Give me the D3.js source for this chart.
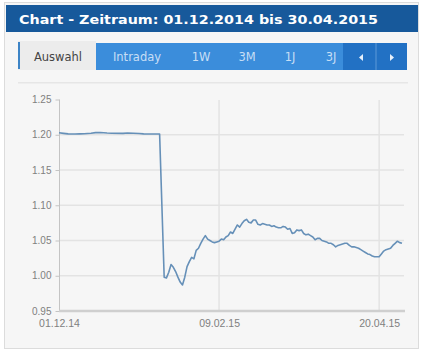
<!DOCTYPE html>
<html>
<head>
<meta charset="utf-8">
<script src="https://cdn.jsdelivr.net/npm/d3@7/dist/d3.min.js"></script>
<style>
  html, body { margin: 0; padding: 0; background: #ffffff; }
  svg { display: block; }
</style>
</head>
<body>
<script>
// ---- Data ----
const titleText = "Chart - Zeitraum: 01.12.2014 bis 30.04.2015";
const tabLabels = ["Intraday", "1W", "3M", "1J", "3J"];
const activeTab = "Auswahl";
const yTicks = [0.95, 1.00, 1.05, 1.10, 1.15, 1.20, 1.25];
const xTickDates = ["2014-12-01", "2015-02-09", "2015-04-20"];
const domainDates = ["2014-12-01", "2015-04-30"];

const dates = [
  "2014-12-01","2014-12-03","2014-12-05","2014-12-08","2014-12-10","2014-12-12","2014-12-15","2014-12-17",
  "2014-12-19","2014-12-22","2014-12-24","2014-12-29","2014-12-31","2015-01-05","2015-01-07","2015-01-09",
  "2015-01-12","2015-01-14","2015-01-16",
  "2015-01-17","2015-01-18","2015-01-19","2015-01-20","2015-01-21","2015-01-22","2015-01-23","2015-01-24",
  "2015-01-25","2015-01-26","2015-01-27","2015-01-28","2015-01-29","2015-01-30","2015-01-31",
  "2015-02-01","2015-02-02","2015-02-03","2015-02-04","2015-02-05","2015-02-06","2015-02-07","2015-02-08",
  "2015-02-09","2015-02-10","2015-02-11","2015-02-12","2015-02-13","2015-02-14","2015-02-15","2015-02-16",
  "2015-02-17","2015-02-18","2015-02-19","2015-02-20","2015-02-21","2015-02-22","2015-02-23","2015-02-24",
  "2015-02-25","2015-02-26","2015-02-27","2015-02-28",
  "2015-03-01","2015-03-02","2015-03-03","2015-03-04","2015-03-05","2015-03-06","2015-03-07","2015-03-08",
  "2015-03-09","2015-03-10","2015-03-11","2015-03-12","2015-03-13","2015-03-14","2015-03-15","2015-03-16",
  "2015-03-17","2015-03-18","2015-03-19","2015-03-20","2015-03-21","2015-03-22","2015-03-23","2015-03-24",
  "2015-03-25","2015-03-26","2015-03-27","2015-03-28","2015-03-29","2015-03-30","2015-03-31",
  "2015-04-01","2015-04-02","2015-04-03","2015-04-04","2015-04-05","2015-04-06","2015-04-07","2015-04-08",
  "2015-04-09","2015-04-10","2015-04-11","2015-04-12","2015-04-13","2015-04-14","2015-04-15","2015-04-16",
  "2015-04-17","2015-04-18","2015-04-19","2015-04-20","2015-04-21","2015-04-22","2015-04-23","2015-04-24",
  "2015-04-25","2015-04-26","2015-04-27","2015-04-28","2015-04-29","2015-04-30"
];
const values = [
  1.2028,1.2020,1.2012,1.2010,1.2012,1.2015,1.2022,1.2030,
  1.2032,1.2025,1.2022,1.2020,1.2024,1.2018,1.2012,1.2010,
  1.2010,1.2010,0.998,
  0.997,1.005,1.016,1.012,1.006,0.998,0.991,0.987,
  0.998,1.013,1.020,1.026,1.024,1.036,1.039,
  1.046,1.052,1.057,1.052,1.050,1.048,1.047,1.048,
  1.049,1.052,1.051,1.055,1.057,1.062,1.060,1.066,
  1.072,1.069,1.074,1.078,1.080,1.076,1.075,1.079,
  1.079,1.073,1.072,1.074,
  1.073,1.072,1.072,1.070,1.071,1.069,1.068,1.068,
  1.070,1.069,1.066,1.067,1.060,1.061,1.065,1.064,
  1.065,1.060,1.058,1.059,1.057,1.055,1.051,1.053,
  1.053,1.050,1.049,1.048,1.046,1.046,1.044,
  1.041,1.043,1.044,1.045,1.046,1.046,1.043,1.041,
  1.041,1.040,1.039,1.037,1.035,1.033,1.031,1.030,
  1.028,1.027,1.027,1.027,1.031,1.035,1.037,1.038,
  1.039,1.043,1.046,1.049,1.047,1.046
];

// ---- Drawing ----
const W = 424, H = 360;
const parse = d3.timeParse("%Y-%m-%d");
const series = dates.map((d, i) => ({ date: parse(d), value: values[i] }));

const svg = d3.select("body").append("svg").attr("width", W).attr("height", H);

// outer panel
svg.append("rect").attr("x", 4.5).attr("y", 2.5).attr("width", 414).attr("height", 346)
  .attr("fill", "#f6f6f6").attr("stroke", "#dcdcdc");

// title bar
svg.append("rect").attr("x", 6).attr("y", 5).attr("width", 412).attr("height", 27).attr("fill", "#17599b");
svg.append("text").attr("x", 19).attr("y", 24)
  .attr("font-family", "DejaVu Sans, Verdana, sans-serif").attr("font-weight", "bold")
  .attr("font-size", 12.5).attr("fill", "#ffffff")
  .attr("textLength", 359).attr("lengthAdjust", "spacingAndGlyphs")
  .text(titleText);

// tabs
svg.append("rect").attr("x", 18).attr("y", 41).attr("width", 78).attr("height", 29).attr("fill", "#ececec");
svg.append("rect").attr("x", 18).attr("y", 42).attr("width", 2).attr("height", 27).attr("fill", "#3d84c6");
svg.append("text").attr("x", 58).attr("y", 61).attr("text-anchor", "middle")
  .attr("font-family", "DejaVu Sans, Verdana, sans-serif").attr("font-size", 11.5).attr("fill", "#444")
  .text(activeTab);
svg.append("rect").attr("x", 96).attr("y", 43).attr("width", 247).attr("height", 27).attr("fill", "#3b8ddb");
const tabX = [137, 201, 247, 290, 331];
svg.selectAll("text.tab").data(tabLabels).enter().append("text").attr("class", "tab")
  .attr("x", (d, i) => tabX[i]).attr("y", 61).attr("text-anchor", "middle")
  .attr("font-family", "DejaVu Sans, Verdana, sans-serif").attr("font-size", 11.5).attr("fill", "#c7def5")
  .text(d => d);
svg.append("rect").attr("x", 343).attr("y", 43).attr("width", 64).attr("height", 27).attr("fill", "#2271c4");
svg.append("rect").attr("x", 375.5).attr("y", 43).attr("width", 1).attr("height", 27).attr("fill", "#5d9ad8");
svg.append("path").attr("d", "M363,54 L359,57.5 L363,61 Z").attr("fill", "#e6f0fb");
svg.append("path").attr("d", "M390,54 L394,57.5 L390,61 Z").attr("fill", "#e6f0fb");

// separator below tabs
svg.append("rect").attr("x", 18).attr("y", 82).attr("width", 390).attr("height", 1.5).attr("fill", "#e6e6e6");

// scales
const x = d3.scaleTime().domain(domainDates.map(parse)).range([59, 402]);
const y = d3.scaleLinear().domain([0.95, 1.25]).range([311, 99.5]);

const font = "Liberation Sans, Arial, sans-serif";

// horizontal gridlines
svg.append("g").selectAll("line").data(yTicks.slice(1, -1)).enter().append("line")
  .attr("x1", 60).attr("x2", 404).attr("y1", d => y(d)).attr("y2", d => y(d))
  .attr("stroke", "#e3e3e3").attr("stroke-width", 1.5);
// vertical gridlines
svg.append("g").selectAll("line").data(xTickDates.slice(1).map(parse)).enter().append("line")
  .attr("x1", d => x(d)).attr("x2", d => x(d)).attr("y1", 100).attr("y2", 311)
  .attr("stroke", "#e3e3e3").attr("stroke-width", 1.5);

// y axis
const yAxis = svg.append("g").attr("transform", "translate(59.5,0)")
  .call(d3.axisLeft(y).tickValues(yTicks).tickFormat(d3.format(".2f")).tickSize(4).tickPadding(4));
yAxis.select(".domain").attr("stroke", "#c4c4c4").attr("d", `M0,${y(1.25)}V${y(0.95)}`);
yAxis.selectAll(".tick line").attr("stroke", "#c4c4c4");
yAxis.selectAll("text").attr("font-family", font).attr("font-size", 10).attr("fill", "#808080");

// x axis
const xAxis = svg.append("g").attr("transform", `translate(0,${y(0.95)})`)
  .call(d3.axisBottom(x).tickValues(xTickDates.map(parse)).tickFormat(d3.timeFormat("%d.%m.%y")).tickSize(0).tickPadding(9));
xAxis.select(".domain").attr("stroke", "#cfcfcf").attr("stroke-width", 2.5).attr("d", "M59,0H405");
xAxis.selectAll("text").attr("font-family", font).attr("font-size", 10.5).attr("fill", "#808080");

// line
const line = d3.line().x(d => x(d.date)).y(d => y(d.value));
svg.append("path").datum(series).attr("d", line)
  .attr("fill", "none").attr("stroke", "#6690b8").attr("stroke-width", 1.6).attr("stroke-linejoin", "round");
</script>
</body>
</html>
